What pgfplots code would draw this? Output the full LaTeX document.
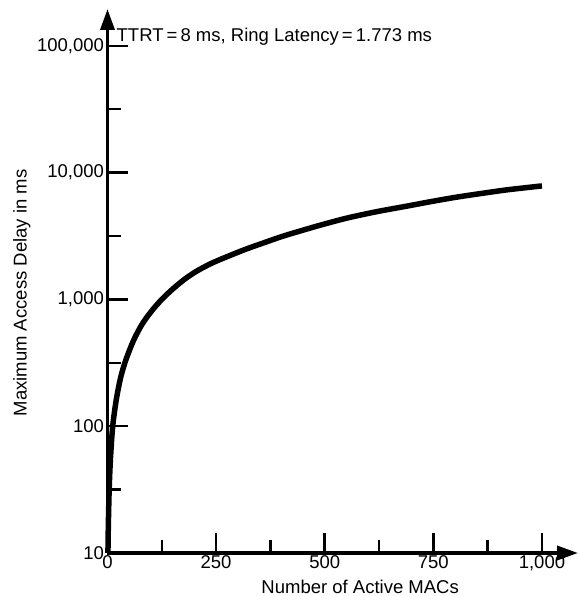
\documentclass[border=0pt]{standalone}
\usepackage{pgfplots}
\pgfplotsset{compat=1.18}
\usepackage{fontspec}
\setmainfont{Liberation Sans}
\usetikzlibrary{arrows.meta}
\begin{document}
\begin{tikzpicture}
\path[use as bounding box] (-107.5bp,-43bp) rectangle (470.5bp,553bp);
\begin{axis}[
  scale only axis, width=470.5bp, height=544bp,
  xmin=0, xmax=1083, ymin=10, ymax=195000,
  ymode=log,
  axis lines=left,
  axis line style={line width=3.6bp, -{Triangle[length=21bp,width=14bp]}},
  xtick={0,250,500,750,1000}, xticklabels={0,250,500,750,{1,000}},
  minor xtick={125,375,625,875},
  ytick={10,100,1000,10000,100000}, yticklabels={10,100,{1,000},{10,000},{100,000}},
  minor ytick={31.62,316.2,3162,31623},
  tick align=inside, major tick length=20bp, minor tick length=13bp,
  every tick/.style={black, line width=2.5bp},
  tick label style={font=\fontsize{18.5bp}{22bp}\selectfont},
  xticklabel style={yshift=1bp},
  xlabel={Number of Active MACs},
  xlabel style={at={(axis description cs:0.537,-0.062)}, anchor=center, font=\fontsize{18.5bp}{22bp}\selectfont},
  ylabel={Maximum Access Delay in ms},
  ylabel style={at={(axis description cs:-0.182,0.478)}, anchor=center, font=\fontsize{18.5bp}{22bp}\selectfont},
  clip=false,
]
\addplot[black, line width=5.5bp, smooth, tension=0.5] coordinates {
(1,10) (2,17) (4,33) (7,57) (12,100) (20,160) (30,240) (42,331) (60,475) (80,640)
(102,813) (125,1000) (149,1197) (175,1420) (203,1653) (240,1930) (281,2213) (320,2500) (358,2780) (400,3120) (436,3402) (490,3850) (551,4375)
(620,4920) (690,5445) (750,5950) (805,6412) (865,6880) (921,7320) (1000,7850)
};
\node[anchor=base west, font=\fontsize{18.5bp}{22bp}\selectfont] at (axis description cs:0.012,0.941) {TTRT\,=\,8 ms, Ring Latency\,=\,1.773 ms};
\end{axis}
\end{tikzpicture}
\end{document}
